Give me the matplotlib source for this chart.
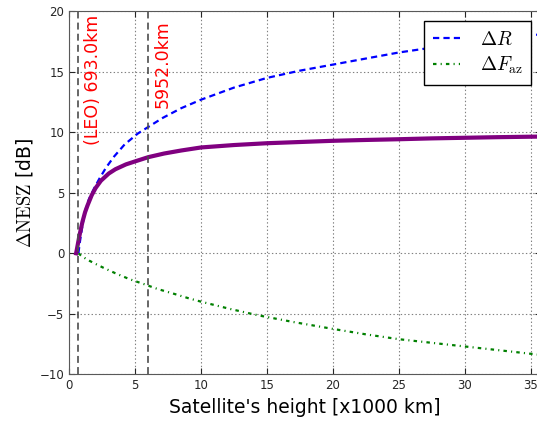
import matplotlib
matplotlib.use('Agg')
import matplotlib.pyplot as plt

# values (height in 1000 km, dB)
h_dR = [0.693, 0.8, 0.9, 1.0, 1.15, 1.3, 1.5, 1.9, 2.3, 2.8, 3.4, 4.2, 5.2, 6.0, 7.1,
        8.5, 10.0, 12.5, 15.0, 17.5, 20.0, 22.5, 25.0, 27.5, 30.0, 32.5, 35.786]
dR = [0.0, 0.9, 1.6, 2.3, 3.2, 3.9, 4.5, 5.4, 6.2, 7.1, 8.0, 9.0, 9.9, 10.45, 11.2,
      12.0, 12.7, 13.7, 14.5, 15.1, 15.6, 16.1, 16.6, 17.0, 17.4, 17.75, 18.1]

h_dF = [0.693, 1.0, 1.5, 2.0, 2.6, 3.5, 4.6, 5.7, 6.7, 7.8, 9.0, 10.0, 12.2, 14.3,
        17.0, 20.0, 22.5, 25.0, 27.5, 30.0, 32.5, 35.786]
dFaz = [0.0, -0.28, -0.6, -0.88, -1.2, -1.65, -2.15, -2.56, -2.95, -3.3, -3.7, -4.0,
        -4.6, -5.12, -5.68, -6.25, -6.7, -7.1, -7.4, -7.7, -8.0, -8.4]

h_tot = [0.52, 0.65, 0.76, 0.9, 1.0, 1.2, 1.4, 1.7, 2.0, 2.4, 3.0, 3.5, 4.3, 5.0, 6.0,
         7.2, 8.5, 10.0, 12.5, 15.0, 17.5, 20.0, 22.5, 25.0, 27.5, 30.0, 32.5, 35.786]
dNESZ = [0.0, 0.75, 1.4, 2.1, 2.6, 3.4, 4.0, 4.8, 5.4, 6.0, 6.6, 6.95, 7.35, 7.6, 7.95,
         8.25, 8.5, 8.75, 8.95, 9.1, 9.2, 9.3, 9.37, 9.43, 9.5, 9.55, 9.6, 9.65]

heights = [0.693, 5.952]
h_labels = ['(LEO) 693.0km', '5952.0km']
label_top = [19.7, 19.3]

plt.rcParams['mathtext.fontset'] = 'cm'
plt.rcParams['lines.scale_dashes'] = False

fig = plt.figure(figsize=(5.37, 4.21), dpi=100)
ax = fig.add_axes([0.129, 0.111, 0.8784, 0.862])

ax.plot(h_dR, dR, color='blue', lw=1.6, dashes=(4.5, 3), label=r'$\Delta R$')
ax.plot(h_dF, dFaz, color='green', lw=1.6, dashes=(2.5, 3, 0.8, 3), label=r'$\Delta F_\mathrm{az}$')
ax.plot(h_tot, dNESZ, color='purple', lw=3.0)

for hh, lab, top in zip(heights, h_labels, label_top):
    ax.axvline(hh, color='0.3', lw=1.2, dashes=(5, 3))
    ax.text(hh + 1.1, top, lab, color='red', rotation=90, fontsize=12.5,
            ha='center', va='top')

ax.set_xlim(0, 35.786)
ax.set_ylim(-10, 20)
ax.set_xticks(range(0, 36, 5))
ax.set_yticks(range(-10, 21, 5))
ax.tick_params(direction='in', length=4, labelsize=8.5, top=True, right=True, colors='0.15')
ax.grid(True, color='0.5', ls=':', lw=0.8)
for s in ax.spines.values():
    s.set_color('0.35')

ax.set_xlabel("Satellite's height [x1000 km]", fontsize=13.5)
ax.set_ylabel(r'$\Delta\mathrm{NESZ}$ [dB]', fontsize=13.5, labelpad=3)

leg = ax.legend(loc='upper right', fontsize=14, handlelength=1.4, handletextpad=1.0,
                borderpad=0.45, labelspacing=0.3, fancybox=False, framealpha=1)
leg.get_frame().set_edgecolor('black')

fig.savefig('out.png', dpi=100)
